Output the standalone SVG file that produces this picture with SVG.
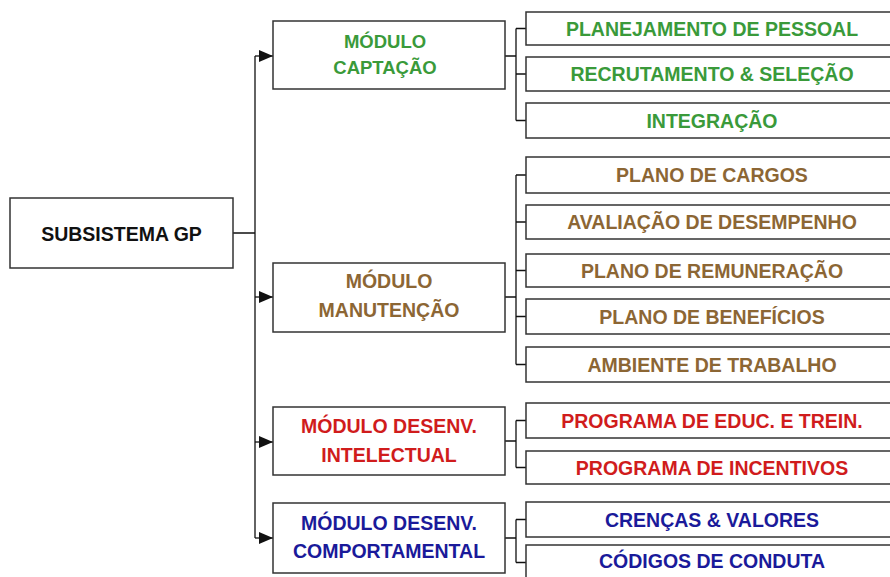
<svg xmlns="http://www.w3.org/2000/svg" width="890" height="577" viewBox="0 0 890 577">
<style>
.box{fill:#fff;stroke:#333;stroke-width:1.5}
.t{font-family:"Liberation Sans",Arial,sans-serif;font-weight:bold;font-size:19.5px;text-anchor:middle}
.g{fill:#3a9a3a}.b{fill:#8c6634}.r{fill:#d01c1c}.u{fill:#1a1a9a}.k{fill:#111}
.c{fill:none;stroke:#111;stroke-width:1.3}
</style>
<defs>
<marker id="arr" markerUnits="userSpaceOnUse" markerWidth="14" markerHeight="12" refX="14" refY="6" orient="auto">
<path d="M0,0 L14,6 L0,12 z" fill="#111"/>
</marker>
</defs>
<rect width="890" height="577" fill="#fff"/>
<g id="connectors">
<path class="c" d="M233,233 H255 M255,56 V538"/>
<path class="c" d="M255,56 H273" marker-end="url(#arr)"/>
<path class="c" d="M255,297 H273" marker-end="url(#arr)"/>
<path class="c" d="M255,442 H273" marker-end="url(#arr)"/>
<path class="c" d="M255,538 H273" marker-end="url(#arr)"/>
<path class="c" d="M505,56 H516 M516,28.5 V120.5 M516,28.5 H526 M516,74 H526 M516,120.5 H526"/>
<path class="c" d="M505,297 H516 M516,175 V364.5 M516,175 H526 M516,222 H526 M516,270.5 H526 M516,316.5 H526 M516,364.5 H526"/>
<path class="c" d="M505,441 H516 M516,420.5 V467.5 M516,420.5 H526 M516,467.5 H526"/>
<path class="c" d="M505,538 H516 M516,519.5 V562.5 M516,519.5 H526 M516,562.5 H526"/>
</g>
<g id="subsistema">
<rect class="box" x="10" y="198" width="223" height="70"/>
<text class="t k" x="121.5" y="241">SUBSISTEMA GP</text>
</g>
<g id="mod-captacao">
<rect class="box" x="273" y="21" width="232" height="68"/>
<text class="t g" x="385" y="48" style="font-size:18.5px">MÓDULO</text>
<text class="t g" x="385" y="74" style="font-size:18.5px">CAPTAÇÃO</text>
</g>
<g id="mod-manutencao">
<rect class="box" x="273" y="263" width="232" height="69"/>
<text class="t b" x="389" y="288">MÓDULO</text>
<text class="t b" x="389" y="317">MANUTENÇÃO</text>
</g>
<g id="mod-intelectual">
<rect class="box" x="273" y="407" width="232" height="68"/>
<text class="t r" x="389" y="433">MÓDULO DESENV.</text>
<text class="t r" x="389" y="462">INTELECTUAL</text>
</g>
<g id="mod-comportamental">
<rect class="box" x="273" y="503" width="232" height="70"/>
<text class="t u" x="389" y="530">MÓDULO DESENV.</text>
<text class="t u" x="389" y="558">COMPORTAMENTAL</text>
</g>
<g id="planejamento"><rect class="box" x="526" y="12" width="370" height="33"/><text class="t g" x="712" y="36">PLANEJAMENTO DE PESSOAL</text></g>
<g id="recrutamento"><rect class="box" x="526" y="57" width="370" height="34"/><text class="t g" x="712" y="81">RECRUTAMENTO &amp; SELEÇÃO</text></g>
<g id="integracao"><rect class="box" x="526" y="103" width="370" height="35"/><text class="t g" x="712" y="128">INTEGRAÇÃO</text></g>
<g id="cargos"><rect class="box" x="526" y="157" width="370" height="36"/><text class="t b" x="712" y="182">PLANO DE CARGOS</text></g>
<g id="avaliacao"><rect class="box" x="526" y="205" width="370" height="34"/><text class="t b" x="712" y="229">AVALIAÇÃO DE DESEMPENHO</text></g>
<g id="remuneracao"><rect class="box" x="526" y="254" width="370" height="33"/><text class="t b" x="712" y="277.5">PLANO DE REMUNERAÇÃO</text></g>
<g id="beneficios"><rect class="box" x="526" y="299" width="370" height="35"/><text class="t b" x="712" y="323.5">PLANO DE BENEFÍCIOS</text></g>
<g id="ambiente"><rect class="box" x="526" y="347" width="370" height="35"/><text class="t b" x="712" y="371.5">AMBIENTE DE TRABALHO</text></g>
<g id="educ"><rect class="box" x="526" y="403" width="370" height="35"/><text class="t r" x="712" y="427.5">PROGRAMA DE EDUC. E TREIN.</text></g>
<g id="incentivos"><rect class="box" x="526" y="451" width="370" height="33"/><text class="t r" x="712" y="474.5">PROGRAMA DE INCENTIVOS</text></g>
<g id="crencas"><rect class="box" x="526" y="502" width="370" height="35"/><text class="t u" x="712" y="526.5">CRENÇAS &amp; VALORES</text></g>
<g id="codigos"><rect class="box" x="526" y="545" width="370" height="40"/><text class="t u" x="712" y="568">CÓDIGOS DE CONDUTA</text></g>
</svg>
